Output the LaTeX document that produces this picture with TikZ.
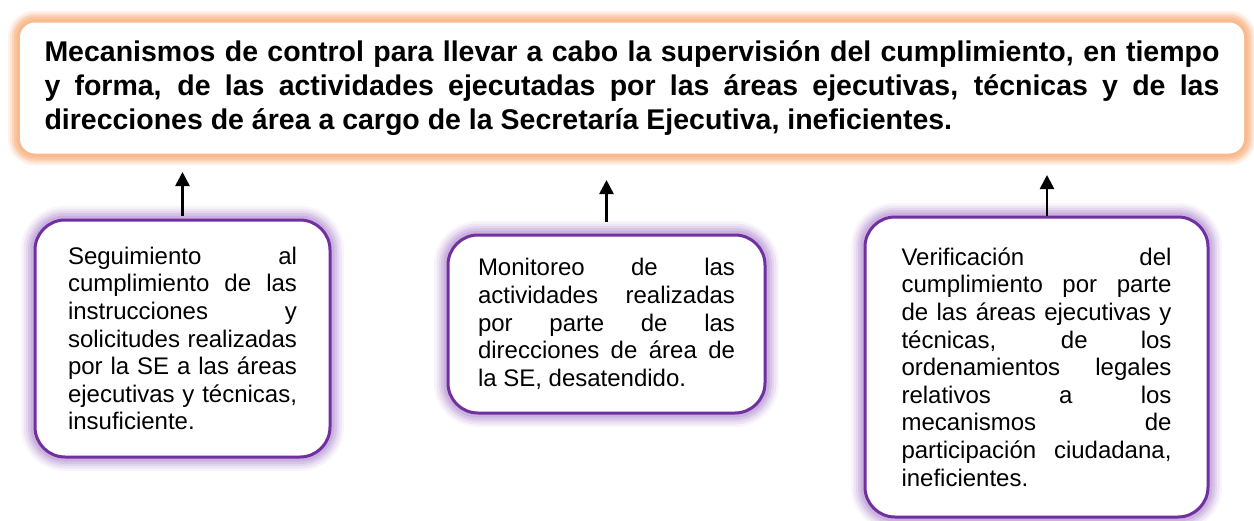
\documentclass[tikz,border=0pt]{standalone}
\usepackage{fontspec}
\setmainfont{Liberation Sans}
\usetikzlibrary{arrows.meta}
\definecolor{glowor}{RGB}{248,175,125}
\definecolor{bordp}{RGB}{112,48,160}
\definecolor{glowp}{RGB}{150,100,190}
\hyphenpenalty=10000
\exhyphenpenalty=10000
\hbadness=10000
\tikzset{
  topbox/.style={rounded corners=15pt, fill=white, draw=none,
    preaction={draw=glowor, line width=24pt, draw opacity=0.15},
    preaction={draw=glowor, line width=20pt, draw opacity=0.2},
    preaction={draw=glowor, line width=16pt, draw opacity=0.3},
    preaction={draw=glowor, line width=12pt, draw opacity=0.4},
    preaction={draw=glowor, line width=7pt, draw opacity=0.5},
    inner sep=0pt, align=justify,
    font=\fontsize{28.5}{34}\selectfont\bfseries},
  pbox/.style={rounded corners=30pt, fill=white, draw=bordp, line width=3pt,
    preaction={draw=glowp, line width=28pt, draw opacity=0.07},
    preaction={draw=glowp, line width=23pt, draw opacity=0.1},
    preaction={draw=glowp, line width=18pt, draw opacity=0.12},
    preaction={draw=glowp, line width=14pt, draw opacity=0.15},
    preaction={draw=glowp, line width=9pt, draw opacity=0.2},
    inner sep=0pt, align=justify,
    font=\fontsize{24}{27.6}\selectfont},
  arr/.style={line width=2.6pt, -{Triangle[width=14pt,length=14pt]}}
}
\begin{document}
\begin{tikzpicture}[x=1pt,y=-1pt]
\useasboundingbox (0,0) rectangle (1254,520);
\node[topbox, minimum width=1224pt, minimum height=131pt, text width=1175pt] (top) at (632,88)
{Mecanismos de control para llevar a cabo la supervisión del cumplimiento, en tiempo\linebreak
y forma, de las actividades ejecutadas por las áreas ejecutivas, técnicas y de las\linebreak
direcciones de área a cargo de la Secretaría Ejecutiva, ineficientes.\par\vspace{-8pt}};
\node[pbox, minimum width=295pt, minimum height=237pt, text width=229pt] (b1) at (182.5,338.5)
{Seguimiento al\linebreak
cumplimiento de las\linebreak
instrucciones y\linebreak
solicitudes realizadas\linebreak
por la SE a las áreas\linebreak
ejecutivas y técnicas,\linebreak
insuficiente.\par\vspace{-5pt}};
\node[pbox, minimum width=317pt, minimum height=178pt, text width=257pt] (b2) at (606.5,324)
{Monitoreo de las\linebreak
actividades realizadas\linebreak
por parte de las\linebreak
direcciones de área de\linebreak
la SE, desatendido.\par\vspace{-3pt}};
\node[pbox, minimum width=343pt, minimum height=300pt, text width=270pt] (b3) at (1036.5,367)
{Verificación del\linebreak
cumplimiento por parte\linebreak
de las áreas ejecutivas y\linebreak
técnicas, de los\linebreak
ordenamientos legales\linebreak
relativos a los\linebreak
mecanismos de\linebreak
participación ciudadana,\linebreak
ineficientes.\par\vspace{-3pt}};
\coordinate (t1) at (182.5,172);
\coordinate (t2) at (606.5,180);
\coordinate (t3) at (1047,175);
\draw[arr] (b1.north) ++(0,-3) -- (t1);
\draw[arr] (b2.north) ++(0,-12) -- (t2);
\draw[arr] (b3.north -| t3) -- (t3);
\end{tikzpicture}
\end{document}
